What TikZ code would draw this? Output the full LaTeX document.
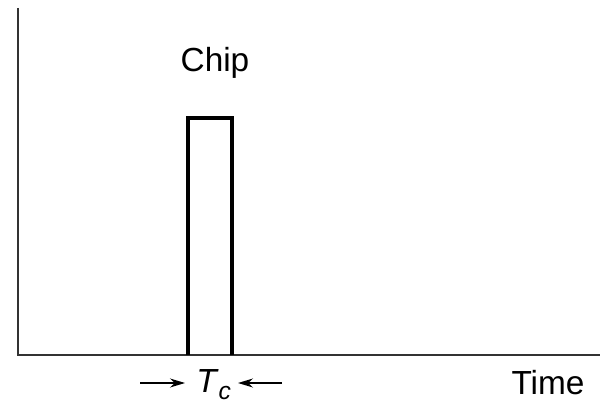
\documentclass[tikz,border=0pt]{standalone}
\usepackage{fontspec}
\setmainfont{Liberation Sans}
\usetikzlibrary{arrows.meta,positioning}
\tikzset{
  >={Stealth[length=3mm,width=1.8mm]},
  axis/.style={draw=black!80,line width=1.1pt},
  pulse/.style={draw=black,line width=1.9pt},
  lab/.style={font=\fontsize{19}{22}\selectfont,inner sep=0pt,anchor=base},
  arr/.style={->,draw=black,line width=0.8pt},
}
\begin{document}
\begin{tikzpicture}[x=0.02cm,y=-0.02cm]
\useasboundingbox (0,0) rectangle (602,405);
% axes
\coordinate (o) at (18,355);
\coordinate (ytop) at (18,8);
\coordinate (xend) at (600,355);
\draw[axis] (ytop) -- (o) -- (xend);
% chip pulse
\coordinate (pl) at (188,355);
\coordinate (pr) at (232,355);
\draw[pulse] (pl) -- (188,118) -- (232,118) -- (pr);
% labels
\node[lab] (chip) at (215,72) {Chip};
\node[lab,anchor=base west] (tc) at (196,392)
  {\textit{T}\raisebox{-4.5pt}{\fontsize{14}{16}\selectfont\textit{c}}};
\node[lab] (time) at (548,395) {Time};
\coordinate (la) at (140,383);
\coordinate (lb) at (185,383);
\coordinate (ra) at (282,383);
\coordinate (rb) at (238,383);
\draw[arr] (la) -- (lb);
\draw[arr] (ra) -- (rb);
\end{tikzpicture}
\end{document}
